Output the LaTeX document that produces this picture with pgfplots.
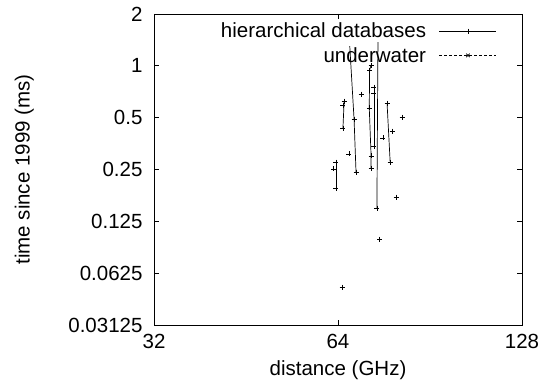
\documentclass[border=0pt]{standalone}
\usepackage{fontspec}
\setmainfont{Liberation Sans}
\usepackage{pgfplots}
\pgfplotsset{compat=1.18}
\newcommand{\ff}{\fontsize{20.5bp}{24bp}\selectfont}
\begin{document}
\begin{tikzpicture}
\begin{axis}[
 at={(0,0)}, anchor=south west,
 scale only axis, width=368bp, height=311bp,
 xmode=log, ymode=log, log basis x=2, log basis y=2,
 xmin=32, xmax=128, ymin=0.03125, ymax=2,
 xtick={32,64,128}, xticklabels={32,64,128},
 ytick={0.03125,0.0625,0.125,0.25,0.5,1,2},
 yticklabels={0.03125,0.0625,0.125,0.25,0.5,1,2},
 xminorticks=false, yminorticks=false,
 tick align=inside, major tick length=5bp,
 axis line style={line width=0.8bp},
 every tick/.style={black, line width=0.8bp},
 tick label style={font=\ff},
 xticklabel style={yshift=-6bp},
 yticklabel style={xshift=-8bp},
 label style={font=\ff},
 xlabel={distance (GHz)},
 ylabel={time since 1999 (ms)},
 xlabel style={at={(axis description cs:0.5,-0.1125)}, anchor=north, inner sep=0pt},
 ylabel style={at={(axis description cs:-0.326,0.5)}, anchor=south, inner sep=0pt},
 legend style={draw=none, fill=none, at={(axis description cs:0.932,0.972)}, anchor=north east,
   inner sep=0pt, column sep=13bp, row sep=8bp, nodes={inner sep=0pt, font=\ff}},
 legend cell align=right, legend plot pos=right,
 legend image code/.code={\draw[mark repeat=2, mark phase=2, #1] plot coordinates {(0bp,0bp) (28.5bp,0bp) (57bp,0bp)};},
]
\addlegendimage{black, line width=0.7bp, mark=+, mark size=2.5bp, mark options={solid}}
\addlegendentry{hierarchical databases}
\addlegendimage{black, line width=0.7bp, dash pattern=on 3bp off 2bp, mark=x, mark size=2.5bp, mark options={solid}}
\addlegendentry{underwater}

\pgfplotsset{every axis plot/.append style={black, line width=0.7bp, forget plot}}
\addplot[no marks] coordinates {(65.5,0.624) (65.2,0.435)};
\addplot[no marks] coordinates {(66.9,1.30) (68.0,0.487) (68.5,0.241)};
\addplot[no marks] coordinates {(63.5,0.276) (63.5,0.195)};
\addplot[no marks] coordinates {(72.5,1.011) (72.1,0.944) (72.0,0.569) (72.5,0.2995) (72.5,0.255)};
\addplot[no marks] coordinates {(73.3,0.753) (73.3,0.342)};
\addplot[no marks] coordinates {(74.4,1.375) (74.1,0.149)};
\addplot[no marks] coordinates {(77.0,0.608) (77.9,0.276)};

\addplot[only marks, mark=+, mark size=2.5bp] coordinates {
 (65.5,0.624) (65.2,0.586) (65.2,0.435)
 (68.0,0.487) (68.5,0.241)
 (63.5,0.276) (63.0,0.252) (63.5,0.195)
 (72.5,1.011) (72.1,0.944) (72.0,0.569) (72.5,0.2995) (72.5,0.255)
 (73.3,0.753) (73.3,0.695) (73.3,0.342)
 (74.1,0.149)
 (77.0,0.608) (77.9,0.276)
 (69.8,0.686) (66.7,0.308) (75.8,0.381) (78.5,0.418) (81.5,0.504)
 (79.7,0.173) (74.9,0.0984) (65.0,0.0518)
};
\end{axis}
\pgfresetboundingbox
\path (-154bp,-65bp) rectangle (388bp,325bp);
\end{tikzpicture}
\end{document}
